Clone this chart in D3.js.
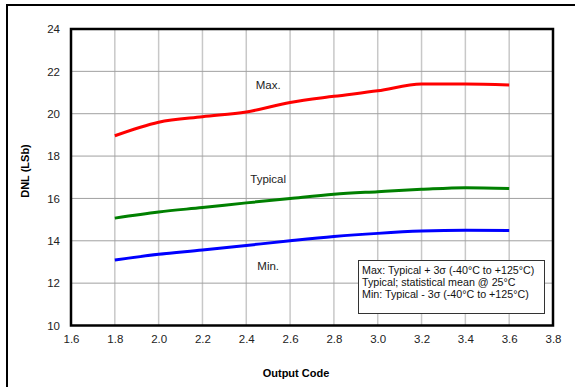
<!DOCTYPE html>
<html><head><meta charset="utf-8">
<script src="https://cdn.jsdelivr.net/npm/d3@7"></script>
<style>body{margin:0;background:#fff;} svg{display:block;font-family:"Liberation Sans",Arial,sans-serif;}</style>
</head><body>
<svg id="c" width="575" height="387"></svg>
<script>
const codes = [1.8, 2.0, 2.2, 2.4, 2.6, 2.8, 3.0, 3.2, 3.4, 3.6];
const maxVals = [18.96, 19.6, 19.86, 20.08, 20.53, 20.82, 21.08, 21.4, 21.4, 21.36];
const typVals = [15.07, 15.36, 15.57, 15.79, 16.0, 16.2, 16.32, 16.43, 16.51, 16.47];
const minVals = [13.09, 13.36, 13.56, 13.78, 14.0, 14.2, 14.35, 14.46, 14.5, 14.49];
const xTicks = [1.6, 1.8, 2.0, 2.2, 2.4, 2.6, 2.8, 3.0, 3.2, 3.4, 3.6, 3.8];
const yTicks = [10, 12, 14, 16, 18, 20, 22, 24];
const legendLines = ["Max: Typical + 3\u03c3 (-40\u00b0C to +125\u00b0C)", "Typical; statistical mean @ 25\u00b0C", "Min: Typical - 3\u03c3 (-40\u00b0C to +125\u00b0C)"];

const svg = d3.select("#c");
const L = 71, T = 29, R = 553, B = 325.5;
const x = d3.scaleLinear().domain([1.6, 3.8]).range([L, R]);
const y = d3.scaleLinear().domain([10, 24]).range([B, T]);

// outer frame
svg.append("rect").attr("x", 7).attr("y", 5).attr("width", 600).attr("height", 400)
  .attr("fill", "none").attr("stroke", "#000").attr("stroke-width", 2);

// grid
svg.append("g").selectAll("line").data(xTicks.slice(1, -1)).join("line")
  .attr("x1", d => x(d)).attr("x2", d => x(d)).attr("y1", T).attr("y2", B)
  .attr("stroke", "#c8c8c8").attr("stroke-width", 1.5);
svg.append("g").selectAll("line").data(yTicks.slice(1, -1)).join("line")
  .attr("x1", L).attr("x2", R).attr("y1", d => y(d)).attr("y2", d => y(d))
  .attr("stroke", "#a0a0a0").attr("stroke-width", 1);

// axes labels via d3 axes
const xAxis = svg.append("g").attr("transform", `translate(0,${B})`)
  .call(d3.axisBottom(x).tickValues(xTicks).tickFormat(d3.format(".1f")).tickSize(0).tickPadding(9));
const yAxis = svg.append("g").attr("transform", `translate(${L},0)`)
  .call(d3.axisLeft(y).tickValues(yTicks).tickFormat(d3.format("d")).tickSize(0).tickPadding(11));
[xAxis, yAxis].forEach(a => {
  a.select(".domain").remove();
  a.selectAll("text").attr("font-size", 11.5).attr("fill", "#222").attr("font-family", "Liberation Sans, Arial, sans-serif");
});

// legend box
const lg = svg.append("g");
lg.append("rect").attr("x", 358.5).attr("y", 260.5).attr("width", 186).attr("height", 53)
  .attr("fill", "#fff").attr("stroke", "#333").attr("stroke-width", 1);
lg.selectAll("text").data(legendLines).join("text")
  .attr("x", 362).attr("y", (d, i) => 274 + i * 12)
  .attr("font-size", 10.7).attr("fill", "#111").text(d => d);

// plot border
svg.append("rect").attr("x", L).attr("y", T).attr("width", R - L).attr("height", B - T)
  .attr("fill", "none").attr("stroke", "#000").attr("stroke-width", 2.5);

// lines
const line = d3.line().x((d, i) => x(codes[i])).y(d => y(d)).curve(d3.curveMonotoneX);
[[maxVals, "#ff0000"], [typVals, "#008000"], [minVals, "#0000ff"]].forEach(([v, c]) => {
  svg.append("path").datum(v).attr("d", line).attr("fill", "none")
    .attr("stroke", c).attr("stroke-width", 3);
});

// series labels
const lbl = [["Max.", 2.5, 85], ["Typical", 2.5, 179], ["Min.", 2.5, 266]];
svg.append("g").selectAll("text").data(lbl).join("text")
  .attr("x", d => x(d[1])).attr("y", d => d[2] + 4).attr("text-anchor", "middle")
  .attr("font-size", 11.5).attr("fill", "#222").text(d => d[0]);

// axis titles
svg.append("text").attr("x", 296).attr("y", 377).attr("text-anchor", "middle")
  .attr("font-size", 11).attr("font-weight", "bold").text("Output Code");
svg.append("text").attr("transform", "translate(29,171) rotate(-90)").attr("text-anchor", "middle")
  .attr("font-size", 11).attr("font-weight", "bold").text("DNL (LSb)");
</script>
</body></html>
